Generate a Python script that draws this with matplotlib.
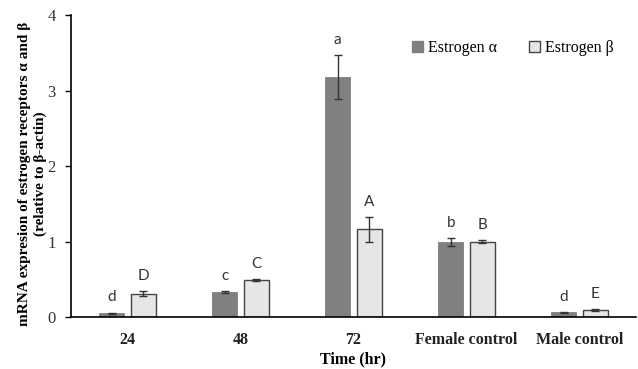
import numpy as np
import matplotlib.pyplot as plt
from matplotlib.patches import Patch

# data
groups = ["24", "48", "72", "Female control", "Male control"]
alpha_vals = [0.05, 0.33, 3.18, 0.99, 0.06]
alpha_err = [0.005, 0.01, 0.29, 0.05, 0.005]
beta_vals = [0.31, 0.49, 1.16, 1.00, 0.09]
beta_err = [0.03, 0.01, 0.16, 0.02, 0.01]
alpha_letters = ["d", "c", "a", "b", "d"]
beta_letters = ["D", "C", "A", "B", "E"]

serif = "Liberation Serif"
sans = "Lato"

fig = plt.figure(figsize=(6.38, 3.69), dpi=100)
ax = fig.add_axes([0.111, 0.141, 0.886, 0.818])

x = np.arange(len(groups))
w = 0.22
off = 0.14

ax.bar(x - off, alpha_vals, w, color="#808080", edgecolor="#808080", linewidth=0.6,
       yerr=alpha_err, error_kw=dict(ecolor="#333333", elinewidth=1, capsize=3, capthick=1))
ax.bar(x + off, beta_vals, w, color="#e6e6e6", edgecolor="#444444", linewidth=1,
       yerr=beta_err, error_kw=dict(ecolor="#333333", elinewidth=1, capsize=3, capthick=1))

# significance letters above each bar
for i in range(len(groups)):
    ax.annotate(alpha_letters[i], (x[i] - off, alpha_vals[i] + alpha_err[i]),
                xytext=(0, 6), textcoords="offset points", ha="center", va="bottom",
                fontsize=11, family=sans, color="#333333")
    ax.annotate(beta_letters[i], (x[i] + off, beta_vals[i] + beta_err[i]),
                xytext=(0, 6), textcoords="offset points", ha="center", va="bottom",
                fontsize=11, family=sans, color="#333333")

ax.set_xlim(-0.5, 4.5)
ax.set_ylim(0, 4)
ax.set_yticks([0, 1, 2, 3, 4])
ax.set_yticklabels(["0", "1", "2", "3", "4"], family=serif, fontsize=12, color="#333333")
ax.set_xticks(x)
ax.set_xticklabels(groups, family=serif, fontsize=11.5, fontweight="bold", color="#222222")
ax.tick_params(axis="x", length=0, pad=11)
ax.tick_params(axis="y", length=4, width=1, direction="out", pad=7)

for s in ["top", "right"]:
    ax.spines[s].set_visible(False)
ax.spines["left"].set_linewidth(1.2)
ax.spines["bottom"].set_linewidth(1.2)

ax.set_xlabel("Time (hr)", family=serif, fontsize=11.5, fontweight="bold", labelpad=2)
ax.set_ylabel("mRNA expresion of estrogen receptors α and β\n(relative to β-actin)",
              family=serif, fontsize=11, fontweight="bold")
ax.yaxis.set_label_coords(-0.043, 0.475)

handles = [Patch(facecolor="#808080", edgecolor="#808080"),
           Patch(facecolor="#e6e6e6", edgecolor="#444444")]
ax.legend(handles, ["Estrogen α", "Estrogen β"], loc="upper right", ncol=2, frameon=False,
          bbox_to_anchor=(0.985, 0.965), prop={"family": serif, "size": 11.5},
          handlelength=0.7, handleheight=0.7, handletextpad=0.3, columnspacing=2.0)

fig.savefig("out.png", dpi=100)
